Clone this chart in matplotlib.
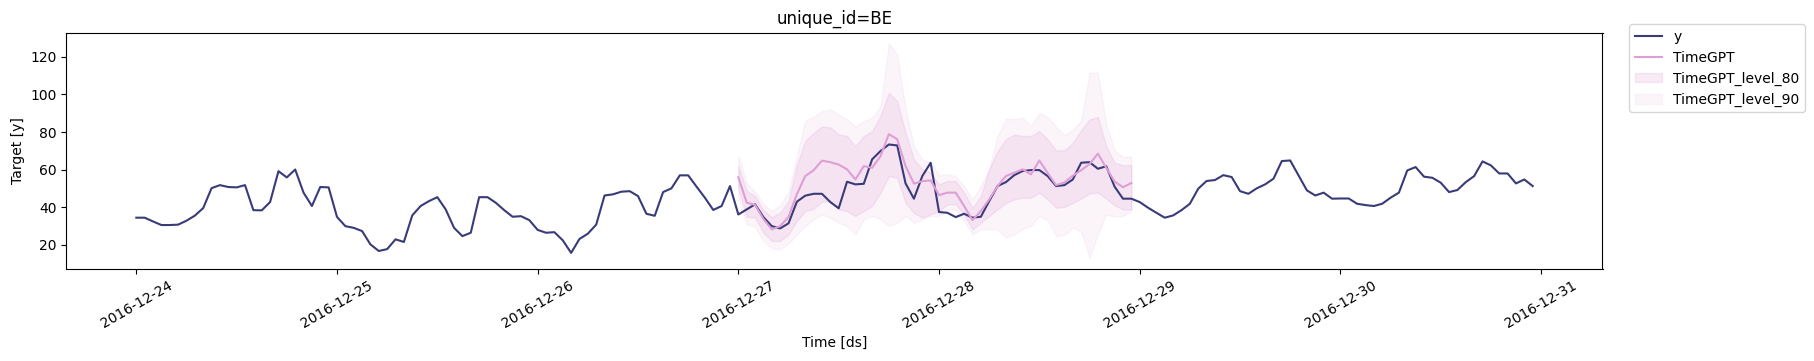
import numpy as np
import pandas as pd
import matplotlib
matplotlib.use('Agg')
import matplotlib.pyplot as plt
import matplotlib.dates as mdates

# hourly history, 2016-12-24 00:00 .. 2016-12-30 23:00
start = '2016-12-24 00:00'
y_day24 = [34.5, 34.5, 32.5, 30.6, 30.6, 30.8, 32.9, 35.6, 39.6, 50.2, 51.8, 50.8,
           50.6, 51.8, 38.5, 38.4, 42.8, 59.2, 55.9, 60.1, 47.8, 40.7, 50.8, 50.6]
y_day25 = [34.9, 30.0, 29.1, 27.4, 20.3, 16.8, 17.8, 23.0, 21.6, 35.7, 40.7, 43.3,
           45.4, 38.9, 29.1, 24.7, 26.5, 45.4, 45.4, 42.4, 38.5, 35.0, 35.3, 33.2]
y_day26 = [28.0, 26.5, 26.8, 22.5, 15.8, 23.2, 26.0, 30.8, 46.3, 46.9, 48.3, 48.6,
           46.0, 36.6, 35.5, 48.1, 50.1, 57.0, 57.0, 51.0, 45.1, 38.6, 40.7, 51.3]
y_day27 = [36.2, 38.9, 41.6, 34.8, 30.0, 28.8, 31.5, 43.0, 46.2, 47.2, 47.2, 42.8,
           39.5, 53.6, 52.2, 52.5, 65.5, 69.9, 73.4, 72.9, 52.7, 44.6, 56.6, 63.7]
y_day28 = [37.5, 37.1, 34.8, 36.6, 34.5, 35.0, 43.3, 51.3, 53.4, 57.1, 59.3, 59.8,
           59.8, 56.6, 51.3, 51.8, 54.8, 63.7, 64.0, 60.5, 61.8, 51.0, 44.6, 44.6]
y_day29 = [42.8, 39.8, 37.1, 34.5, 35.7, 38.5, 41.9, 49.9, 54.0, 54.5, 57.1, 56.1,
           48.6, 47.2, 50.1, 52.2, 55.2, 64.6, 64.9, 57.0, 49.0, 46.3, 47.8, 44.6]
y_day30 = [44.7, 44.7, 41.9, 41.2, 40.7, 41.9, 45.1, 47.8, 59.6, 61.4, 56.3, 55.7,
           53.1, 48.1, 49.2, 53.4, 56.6, 64.4, 62.3, 58.0, 58.0, 52.7, 54.8, 51.3]

# forecast, 2016-12-27 00:00 .. 2016-12-28 23:00
fc_start = '2016-12-27 00:00'
timegpt = [56.0, 42.5, 41.3, 33.8, 28.3, 30.0, 34.9, 47.0, 56.6, 59.7, 64.8, 64.0,
           62.7, 60.2, 54.8, 61.9, 61.0, 67.2, 78.9, 76.2, 61.9, 52.6, 53.9, 54.3,
           46.5, 47.8, 47.8, 40.7, 33.2, 38.0, 44.2, 51.3, 56.6, 58.4, 60.2, 57.5,
           64.9, 58.2, 51.8, 53.2, 56.8, 59.7, 63.0, 68.5, 61.0, 53.7, 50.7, 52.9]
hi_90 = [67.2, 53.0, 48.2, 42.0, 38.0, 41.2, 48.2, 67.2, 86.0, 88.1, 91.1, 92.0,
         89.4, 86.7, 83.2, 85.8, 87.6, 93.8, 127.2, 121.2, 92.0, 72.5, 65.5, 63.7,
         57.1, 57.5, 56.6, 51.3, 44.2, 51.3, 60.5, 77.9, 87.1, 86.8, 87.6, 83.2,
         90.2, 88.0, 82.8, 78.3, 81.4, 85.8, 111.5, 111.5, 84.0, 70.3, 66.8, 66.8]
hi_80 = [62.0, 48.8, 46.0, 38.5, 34.8, 37.2, 43.3, 62.5, 75.2, 79.6, 83.0, 82.5,
         78.7, 77.9, 72.5, 77.9, 80.5, 88.5, 100.9, 96.4, 79.6, 65.5, 60.2, 58.4,
         52.2, 54.0, 54.0, 47.8, 39.8, 46.0, 60.2, 69.9, 76.1, 78.7, 77.9, 77.9,
         80.5, 76.1, 70.3, 70.3, 74.3, 81.0, 86.7, 88.0, 72.5, 63.7, 62.4, 62.4]
lo_80 = [49.8, 35.0, 34.5, 26.5, 22.1, 22.1, 25.6, 32.7, 38.0, 39.3, 43.0, 43.5,
         38.9, 38.0, 35.4, 38.0, 40.7, 47.8, 56.6, 55.7, 42.4, 37.0, 34.5, 36.3,
         38.0, 41.6, 41.6, 36.3, 28.3, 31.8, 35.4, 38.9, 42.4, 44.2, 45.1, 45.1,
         47.8, 44.2, 39.8, 40.2, 42.4, 44.6, 47.4, 47.8, 44.6, 41.1, 38.9, 38.9]
lo_90 = [45.0, 31.0, 29.6, 22.1, 18.1, 17.7, 20.7, 25.6, 30.0, 33.6, 36.2, 34.5,
         31.8, 30.1, 25.6, 33.6, 35.4, 33.6, 30.1, 31.8, 35.4, 31.8, 33.6, 35.4,
         35.4, 38.9, 38.9, 32.7, 25.6, 28.3, 28.5, 28.3, 23.9, 25.6, 28.3, 30.1,
         35.4, 33.1, 24.7, 25.2, 29.2, 27.0, 13.2, 25.6, 36.2, 35.0, 35.4, 38.0]

y = y_day24 + y_day25 + y_day26 + y_day27 + y_day28 + y_day29 + y_day30
ds = pd.date_range(start, periods=len(y), freq='h')
fc_ds = pd.date_range(fc_start, periods=len(timegpt), freq='h')

c_y = '#393b79'
c_fc = '#de9ed6'

fig = plt.figure(figsize=(18.15, 3.61), dpi=100)
ax = fig.add_axes([66.5 / 1815, 92.5 / 361, (1602.5 - 66.5) / 1815, (268.5 - 32.5) / 361])

ax.plot(ds, y, color=c_y, label='y')
ax.plot(fc_ds, timegpt, color=c_fc, label='TimeGPT')
ax.fill_between(fc_ds, lo_80, hi_80, color=c_fc, alpha=0.2, label='TimeGPT_level_80')
ax.fill_between(fc_ds, lo_90, hi_90, color=c_fc, alpha=0.1, label='TimeGPT_level_90')

ax.set_title('unique_id=BE')
ax.set_xlabel('Time [ds]')
ax.set_ylabel('Target [y]')
ax.xaxis.set_major_locator(mdates.DayLocator())
ax.xaxis.set_major_formatter(mdates.DateFormatter('%Y-%m-%d'))
ax.tick_params(axis='x', labelrotation=30)

handles, labels = ax.get_legend_handles_labels()
fig.legend(handles, labels, loc='upper left', bbox_to_anchor=(1629 / 1815, 1 - 24 / 361),
           borderaxespad=0)

fig.savefig('out.png', dpi=100)
